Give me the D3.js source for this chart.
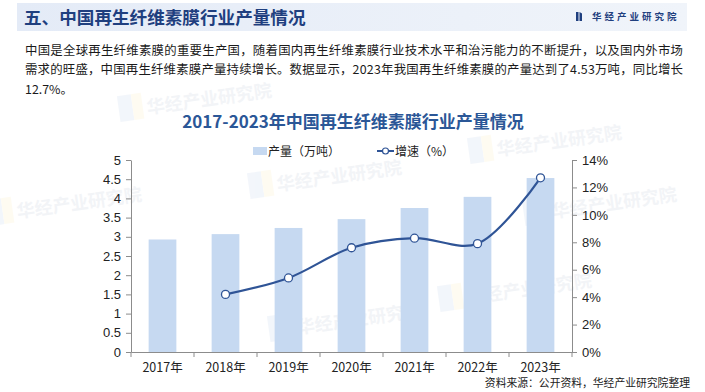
<!DOCTYPE html>
<html><head><meta charset="utf-8">
<script src="https://cdn.jsdelivr.net/npm/d3@7"></script>
<style>
html,body{margin:0;padding:0;background:#fff;}
svg{display:block;}
</style></head>
<body>
<svg id="c" width="705" height="392"></svg>
<script>
const categories = ["2017年","2018年","2019年","2020年","2021年","2022年","2023年"];
const output = [2.93, 3.07, 3.23, 3.46, 3.75, 4.04, 4.53];
const growthYears = ["2018年","2019年","2020年","2021年","2022年","2023年"];
const growth = [4.2, 5.4, 7.6, 8.3, 7.9, 12.7];
const leftTicks = [0,0.5,1,1.5,2,2.5,3,3.5,4,4.5,5];
const rightTicks = [0,2,4,6,8,10,12,14];

const svg = d3.select("#c");
const CJK = "'Noto Sans CJK SC','Noto Sans',sans-serif";
const ARIAL = "'Liberation Sans',Arial,sans-serif";

// header band
const grad = svg.append("defs").append("linearGradient").attr("id","hg");
grad.append("stop").attr("offset","0%").attr("stop-color","#e4ebf7");
grad.append("stop").attr("offset","100%").attr("stop-color","#f0f4fa");
svg.append("rect").attr("x",17).attr("y",3).attr("width",670).attr("height",28).attr("fill","url(#hg)");

// watermarks
const wm = [[250,195],[470,160],[440,308],[270,338],[-10,222],[120,118],[525,222]];
wm.forEach(([x,y])=>{
  const g = svg.append("g").attr("transform",`translate(${x},${y}) rotate(-8)`).attr("opacity",0.22);
  g.append("rect").attr("x",0).attr("y",-22).attr("width",14).attr("height",26).attr("fill","#c9d8ee");
  g.append("rect").attr("x",14).attr("y",-22).attr("width",10).attr("height",26).attr("fill","#fbf0c4");
  g.append("text").attr("x",28).attr("y",0).attr("font-family",CJK).attr("font-weight","bold")
    .attr("font-size",18).attr("fill","#c7cfdc").text("华经产业研究院");
});

svg.append("text").attr("x",24).attr("y",24).attr("font-family",CJK).attr("font-weight","bold")
  .attr("font-size",17.6).attr("fill","#1f3f7f").text("五、中国再生纤维素膜行业产量情况");

// logo
svg.append("rect").attr("x",576).attr("y",12).attr("width",2.5).attr("height",9).attr("fill","#1f3f7f");
svg.append("path").attr("d","M579.5,12 L582,13.5 L582,21 L579.5,21 Z").attr("fill","#1f3f7f");
svg.append("text").attr("x",592).attr("y",20).attr("font-family",CJK).attr("font-weight","bold")
  .attr("font-size",9.5).attr("letter-spacing",3).attr("fill","#1f3f7f").text("华经产业研究院");

// paragraph
const para = [
 "中国是全球再生纤维素膜的重要生产国，随着国内再生纤维素膜行业技术水平和治污能力的不断提升，以及国内外市场",
 "需求的旺盛，中国再生纤维素膜产量持续增长。数据显示，2023年我国再生纤维素膜的产量达到了4.53万吨，同比增长",
 "12.7%。"
];
para.forEach((t,i)=>{
  const el = svg.append("text").attr("x",25).attr("y",55+i*19.3).attr("font-family",CJK)
    .attr("font-size",12.4).attr("fill","#1a1a1a").text(t);
  if(i<2) el.attr("textLength",658).attr("lengthAdjust","spacing");
});

// chart title
svg.append("text").attr("x",353).attr("y",128).attr("text-anchor","middle").attr("font-family",CJK)
  .attr("font-weight","bold").attr("font-size",17).attr("fill","#2b5797")
  .text("2017-2023年中国再生纤维素膜行业产量情况");

// scales
const x = d3.scaleBand().domain(categories).range([131,572]).paddingInner(0.56).paddingOuter(0.28);
const y = d3.scaleLinear().domain([0,5]).range([352,160]);
const y2 = d3.scaleLinear().domain([0,14]).range([352,160]);

// bars
svg.append("g").selectAll("rect").data(output).join("rect")
  .attr("x",(d,i)=>x(categories[i])).attr("y",d=>y(d))
  .attr("width",x.bandwidth()).attr("height",d=>y(0)-y(d)).attr("fill","#c6d9f1");

// axes
const axisColor = "#8c8c8c";
function styleAxis(g){
  g.selectAll("path,line").attr("stroke",axisColor);
  g.selectAll("text").attr("font-family",ARIAL).attr("font-size",13).attr("fill","#222");
}
svg.append("g").attr("transform","translate(131,0)")
  .call(d3.axisLeft(y).tickValues(leftTicks).tickSize(5).tickSizeOuter(0).tickPadding(5).tickFormat(d3.format("~g")))
  .call(styleAxis);
svg.append("g").attr("transform","translate(572,0)")
  .call(d3.axisRight(y2).tickValues(rightTicks).tickSize(5).tickSizeOuter(0).tickPadding(5).tickFormat(d=>d+"%"))
  .call(styleAxis);
const xa = svg.append("g").attr("transform","translate(0,352)")
  .call(d3.axisBottom(x).tickSize(0).tickSizeOuter(0).tickPadding(11))
  .call(styleAxis);
xa.selectAll("text").attr("font-family",CJK).attr("font-size",12.5);
// band boundary ticks
const bounds = categories.map(c=>x(c)-x.step()*x.paddingInner()/2).concat([572]);
xa.selectAll(".bt").data(bounds).join("line").attr("class","bt")
  .attr("x1",d=>d).attr("x2",d=>d).attr("y1",0).attr("y2",5).attr("stroke",axisColor);

// growth line
const pts = growth.map((g,i)=>[x(growthYears[i])+x.bandwidth()/2, y2(g)]);
svg.append("path").attr("d",d3.line().curve(d3.curveCatmullRom.alpha(0.5))(pts))
  .attr("fill","none").attr("stroke","#2f5496").attr("stroke-width",2.2);
svg.append("g").selectAll("circle").data(pts).join("circle")
  .attr("cx",d=>d[0]).attr("cy",d=>d[1]).attr("r",4)
  .attr("fill","#fff").attr("stroke","#2f5496").attr("stroke-width",1.3);

// legend
svg.append("rect").attr("x",253).attr("y",147).attr("width",14).attr("height",8).attr("fill","#c6d9f1");
svg.append("text").attr("x",268).attr("y",155.5).attr("font-family",CJK).attr("font-size",12)
  .attr("fill","#222").text("产量（万吨）");
svg.append("line").attr("x1",377).attr("x2",394).attr("y1",151).attr("y2",151)
  .attr("stroke","#2f5496").attr("stroke-width",2);
svg.append("circle").attr("cx",385.5).attr("cy",151).attr("r",3).attr("fill","#fff")
  .attr("stroke","#2f5496").attr("stroke-width",1.2);
svg.append("text").attr("x",395).attr("y",155.5).attr("font-family",CJK).attr("font-size",12)
  .attr("fill","#222").text("增速（%）");

// footer
svg.append("text").attr("x",690).attr("y",387).attr("text-anchor","end").attr("font-family",CJK)
  .attr("font-size",10.8).attr("fill","#222").text("资料来源：公开资料，华经产业研究院整理");
</script>
</body></html>
